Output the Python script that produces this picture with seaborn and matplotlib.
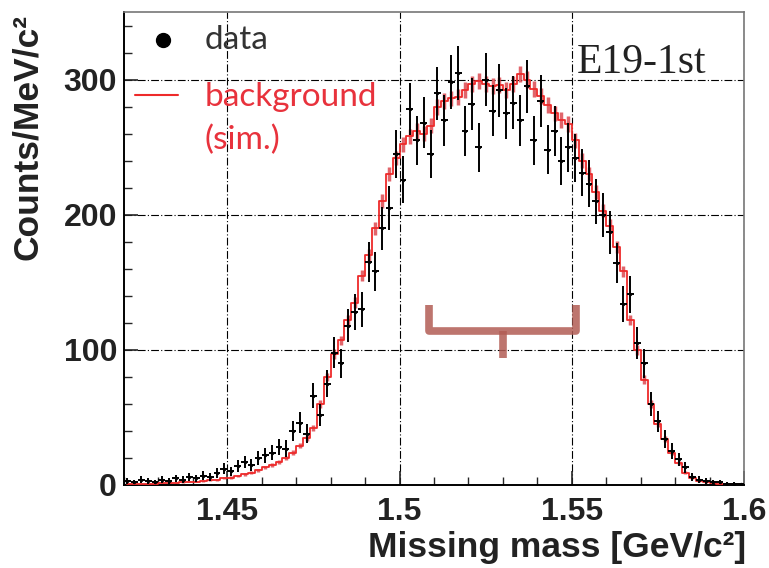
import numpy as np
import matplotlib
matplotlib.use("Agg")
import matplotlib.pyplot as plt
import seaborn as sns
from matplotlib.ticker import MultipleLocator

# histogram: 2 MeV bins between 1.42 and 1.60 GeV/c2
BIN_LO, BIN_HI, BIN_W = 1.42, 1.60, 0.002

data_counts = [3, 2, 4, 3, 2, 4, 3, 5, 4, 6,
               5, 7, 6, 9, 12, 10, 14, 17, 15, 20,
               22, 24, 28, 27, 40, 46, 38, 66, 52, 75,
               98, 90, 118, 128, 130, 165, 158, 190, 205, 245,
               226, 278, 255, 268, 245, 290, 270, 298, 305, 262,
               282, 250, 300, 277, 292, 275, 283, 270, 295, 255,
               284, 248, 262, 240, 250, 242, 231, 223, 210, 200,
               187, 164, 134, 141, 105, 90, 60, 47, 34, 25,
               19, 13, 6, 4, 3, 2, 2, 1, 1, 0.5]
data_err = [2, 1.6, 2.3, 2, 1.6, 2.3, 2, 2.6, 2.3, 2.8,
            2.6, 3, 2.8, 3.5, 4, 3.6, 4.3, 4.7, 4.5, 5.1,
            5.4, 5.6, 6.1, 6, 7.3, 7.8, 7.1, 9.3, 8.3, 10,
            11.4, 10.9, 12.5, 13, 13.1, 14.8, 14.5, 15.9, 16.5, 18,
            17.3, 19.2, 18.4, 18.8, 18, 19.6, 18.9, 19.9, 20.1, 18.6,
            19.3, 18.2, 19.9, 19.1, 19.7, 19.1, 19.3, 18.9, 19.8, 18.4,
            19.4, 18.1, 18.6, 17.8, 18.2, 17.9, 17.5, 17.2, 16.7, 16.3,
            15.7, 14.7, 13.3, 13.7, 11.8, 10.9, 8.9, 7.9, 6.7, 5.8,
            5, 4.1, 2.8, 2.3, 2, 1.6, 1.6, 1.2, 1.2, 0.8]

bg_counts = [0.5, 0.5, 0.8, 1, 1, 1.2, 1.5, 1.8, 2, 2.5,
             2.5, 3, 3.5, 4, 5, 5.5, 6.5, 8, 9, 11,
             13, 15, 17, 20, 24, 29, 35, 42, 60, 80,
             97, 107, 122, 135, 155, 170, 190, 210, 230, 242,
             252, 258, 262, 260, 266, 280, 284, 286, 287, 292,
             297, 299, 297, 295, 296, 292, 297, 304, 300, 293,
             288, 281, 275, 270, 267, 255, 240, 230, 217, 203,
             192, 176, 158, 122, 100, 78, 60, 45, 34, 24,
             16, 9, 5, 3, 2, 1.5, 1, 0.8, 0.5, 0.5]
bg_err = [0.3, 0.3, 0.3, 0.3, 0.3, 0.3, 0.4, 0.4, 0.5, 0.5,
          0.5, 0.6, 0.7, 0.7, 0.8, 0.8, 0.9, 1, 1, 1.2,
          1.3, 1.4, 1.4, 1.6, 1.7, 1.9, 2.1, 2.3, 2.7, 3.1,
          3.4, 3.6, 3.9, 4.1, 4.4, 4.6, 4.8, 5.1, 5.3, 5.4,
          5.6, 5.6, 5.7, 5.7, 5.7, 5.9, 5.9, 5.9, 5.9, 6,
          6, 6, 6, 6, 6, 6, 6, 6.1, 6.1, 6,
          5.9, 5.9, 5.8, 5.8, 5.7, 5.6, 5.4, 5.3, 5.2, 5,
          4.8, 4.6, 4.4, 3.9, 3.5, 3.1, 2.7, 2.3, 2, 1.7,
          1.4, 1, 0.8, 0.6, 0.5, 0.4, 0.3, 0.3, 0.2, 0.2]

# the drawn bracket (annotation from the original slide)
bracket_x = [1.5086, 1.5086, 1.5513, 1.5513]
bracket_y = [133, 114, 114, 133]
stem_x = [1.530, 1.530]
stem_y = [114, 94]

centers = np.arange(BIN_LO + BIN_W / 2, BIN_HI, BIN_W)[:len(data_counts)]

sns.set_theme(style="white")
plt.rcParams["font.family"] = ["Liberation Sans", "DejaVu Sans"]

fig = plt.figure(figsize=(7.69, 5.68), dpi=100)
ax = fig.add_axes([124 / 769, 1 - 485 / 568, 620 / 769, 473 / 568])

# grid (ROOT-style dash-dot)
ax.grid(True, which="major", color="black", linestyle=(0, (7, 2, 1, 2)), linewidth=0.8)
ax.set_axisbelow(True)

# simulated background
ax.errorbar(centers, bg_counts, yerr=bg_err, fmt="none", ecolor="#d8323a",
            elinewidth=2.5, alpha=0.75, zorder=2)
sns.lineplot(x=centers, y=bg_counts, drawstyle="steps-mid", color="#ee2a2a",
             linewidth=1.3, ax=ax, zorder=3)

# data points
ax.errorbar(centers, data_counts, yerr=data_err, xerr=BIN_W / 2, fmt="none",
            ecolor="black", elinewidth=1.4, zorder=4)
sns.scatterplot(x=centers, y=data_counts, color="black", s=6, linewidth=0, ax=ax, zorder=5)

# bracket
ax.plot(bracket_x, bracket_y, color="#b25d55", linewidth=5.5, alpha=0.85,
        solid_joinstyle="round", solid_capstyle="butt", zorder=6)
ax.plot(stem_x, stem_y, color="#b25d55", linewidth=5.5, alpha=0.85,
        solid_capstyle="butt", zorder=6)

ax.set_xlim(BIN_LO, BIN_HI)
ax.set_ylim(0, 350)
ax.xaxis.set_major_locator(MultipleLocator(0.05))
ax.xaxis.set_minor_locator(MultipleLocator(0.01))
ax.yaxis.set_major_locator(MultipleLocator(100))
ax.yaxis.set_minor_locator(MultipleLocator(20))
ax.set_xticks([1.45, 1.5, 1.55, 1.6])
ax.set_xticklabels(["1.45", "1.5", "1.55", "1.6"])
ax.tick_params(which="both", direction="in", left=True, bottom=True)
ax.tick_params(which="major", length=10, width=1.2, labelsize=23)
ax.tick_params(which="minor", length=6, width=1.0)
ax.tick_params(axis="x", pad=9)
ax.tick_params(axis="y", pad=5)
for lab in ax.get_xticklabels() + ax.get_yticklabels():
    lab.set_fontweight("bold")
    lab.set_color("#222222")

for side in ["left", "bottom"]:
    ax.spines[side].set_color("black")
    ax.spines[side].set_linewidth(1.4)
for side in ["top", "right"]:
    ax.spines[side].set_color("#777777")
    ax.spines[side].set_linewidth(1.2)
ax.set_xlabel("")
ax.set_ylabel("")

fig.text(28 / 769, 1 - 137 / 568, "Counts/MeV/c²", rotation=90, ha="center",
         va="center", fontsize=25.5, fontweight="bold", color="#222222")
fig.text(746 / 769, 1 - 547 / 568, "Missing mass [GeV/c²]", ha="right",
         va="center", fontsize=25.5, fontweight="bold", color="#222222")

# legend, drawn the way the slide shows it
ax.plot([0.0629], [0.9408], "o", color="black", markersize=10,
        transform=ax.transAxes, clip_on=False)
ax.text(0.1306, 0.9408, "data", transform=ax.transAxes, ha="left",
        va="center", fontsize=24, family="Lato", color="#333333")
ax.plot([0.0177, 0.0871], [0.8245, 0.8245], color="#ee2a2a", linewidth=1.5,
        transform=ax.transAxes)
ax.text(0.1306, 0.8203, "background", transform=ax.transAxes, ha="left",
        va="center", fontsize=24, family="Lato", color="#e8323c")
ax.text(0.1306, 0.7294, "(sim.)", transform=ax.transAxes, ha="left",
        va="center", fontsize=24, family="Lato", color="#e8323c")
ax.text(0.731, 0.892, "E19-1st", transform=ax.transAxes, ha="left",
        va="center", fontsize=30, family="Liberation Serif", color="#222222")

fig.savefig("out.png", dpi=100)
